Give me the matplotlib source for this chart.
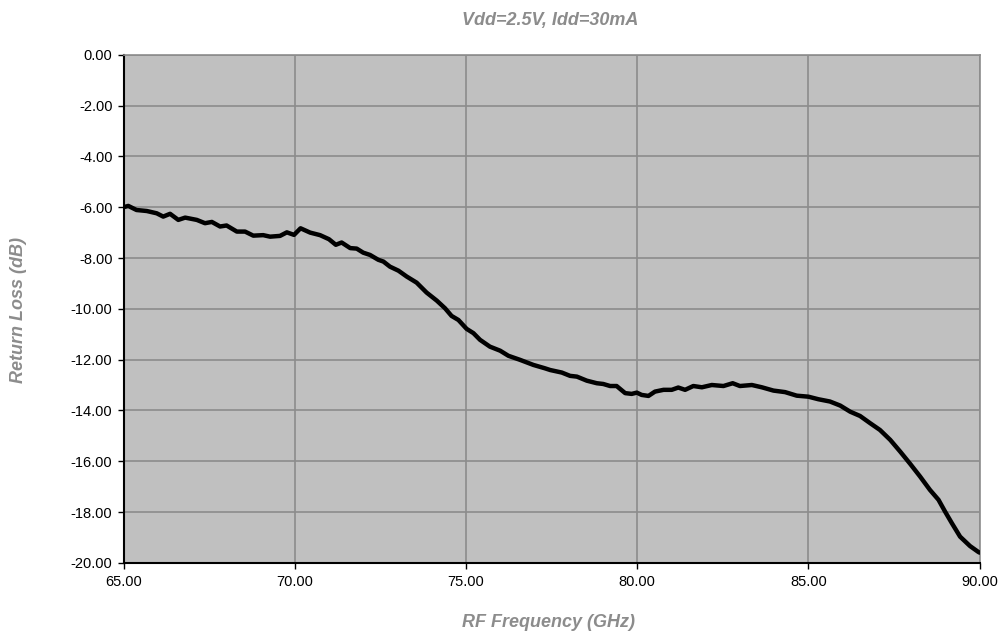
import matplotlib
matplotlib.use("Agg")
import matplotlib.pyplot as plt

freq_ghz = [65.0, 65.14, 65.38, 65.68, 65.97, 66.16, 66.36, 66.6, 66.8, 67.14, 67.38, 67.58,
            67.82, 68.01, 68.31, 68.55, 68.79, 69.08, 69.28, 69.57, 69.77, 69.98, 70.17,
            70.45, 70.74, 71.0, 71.2, 71.37, 71.62, 71.81, 72.0, 72.2, 72.44, 72.59, 72.78,
            73.03, 73.27, 73.56, 73.85, 74.15, 74.39, 74.58, 74.78, 75.02, 75.22, 75.41,
            75.7, 76.0, 76.24, 76.58, 76.97, 77.3, 77.46, 77.8, 78.04, 78.24, 78.53, 78.82,
            79.01, 79.21, 79.4, 79.65, 79.84, 79.99, 80.13, 80.33, 80.52, 80.77, 81.01,
            81.2, 81.4, 81.64, 81.89, 82.18, 82.52, 82.79, 83.0, 83.35, 83.64, 83.98, 84.32,
            84.66, 85.0, 85.29, 85.63, 85.93, 86.22, 86.51, 86.8, 87.09, 87.39, 87.68,
            87.97, 88.26, 88.55, 88.8, 88.99, 89.19, 89.43, 89.72, 89.96, 90.0]
return_loss_db = [-6.0, -5.95, -6.11, -6.15, -6.24, -6.37, -6.26, -6.5, -6.41, -6.5, -6.63, -6.58,
                  -6.76, -6.72, -6.96, -6.96, -7.12, -7.1, -7.16, -7.13, -6.99, -7.09, -6.83,
                  -7.0, -7.1, -7.26, -7.48, -7.39, -7.61, -7.63, -7.79, -7.88, -8.07, -8.14, -8.34,
                  -8.5, -8.73, -8.97, -9.36, -9.68, -9.98, -10.28, -10.44, -10.79, -10.96, -11.22,
                  -11.49, -11.65, -11.85, -12.01, -12.21, -12.34, -12.41, -12.51, -12.64, -12.67, -12.83, -12.93,
                  -12.96, -13.04, -13.04, -13.32, -13.35, -13.3, -13.39, -13.43, -13.26, -13.19, -13.19,
                  -13.1, -13.19, -13.04, -13.09, -13.0, -13.04, -12.93, -13.04, -13.0, -13.09, -13.22, -13.28,
                  -13.42, -13.46, -13.56, -13.65, -13.81, -14.05, -14.22, -14.5, -14.77, -15.16, -15.62,
                  -16.1, -16.6, -17.13, -17.52, -17.98, -18.44, -18.97, -19.34, -19.57, -19.6]

x_ticks = [65, 70, 75, 80, 85, 90]
y_ticks = [0, -2, -4, -6, -8, -10, -12, -14, -16, -18, -20]

title = "Vdd=2.5V, Idd=30mA"
x_label = "RF Frequency (GHz)"
y_label = "Return Loss (dB)"

plt.rcParams['font.family'] = ['Liberation Sans', 'DejaVu Sans']

fig = plt.figure(figsize=(10, 6.35), dpi=100)
ax = fig.add_axes([0.1235, 0.1137, 0.8561, 0.8000])
ax.set_facecolor('#C0C0C0')
ax.plot(freq_ghz, return_loss_db, color='black', linewidth=3.2, solid_joinstyle='round',
        solid_capstyle='round', zorder=3)

ax.set_xlim(65, 90)
ax.set_ylim(-20, 0)
ax.set_xticks(x_ticks)
ax.set_yticks(y_ticks)
ax.set_xticklabels([f"{v:.2f}" for v in x_ticks])
ax.set_yticklabels([f"{v:.2f}" for v in y_ticks])
ax.grid(True, color='#8C8C8C', linewidth=1.2)
ax.set_axisbelow(True)

for s in ['top', 'right']:
    ax.spines[s].set_color('#8C8C8C')
    ax.spines[s].set_linewidth(1.2)
for s in ['left', 'bottom']:
    ax.spines[s].set_color('black')
    ax.spines[s].set_linewidth(1.5)

ax.tick_params(axis='both', direction='out', length=4, width=1, colors='black',
               labelsize=10.5)
ax.tick_params(axis='x', pad=5)
ax.tick_params(axis='y', pad=4)

label_color = '#8C8C8C'
ax.set_xlabel(x_label, fontsize=13, fontweight='bold', fontstyle='italic', color=label_color,
              va='center', ha='center')
ax.xaxis.set_label_coords(0.497, -0.1185)
ax.set_ylabel(y_label, fontsize=13, fontweight='bold', fontstyle='italic', color=label_color,
              va='center', ha='center')
ax.yaxis.set_label_coords(-0.1232, 0.4976)
fig.text(0.550, 0.9685, title, fontsize=13, fontweight='bold', fontstyle='italic', color=label_color,
         ha='center', va='center')

fig.savefig('out.png', dpi=100, facecolor='white')
